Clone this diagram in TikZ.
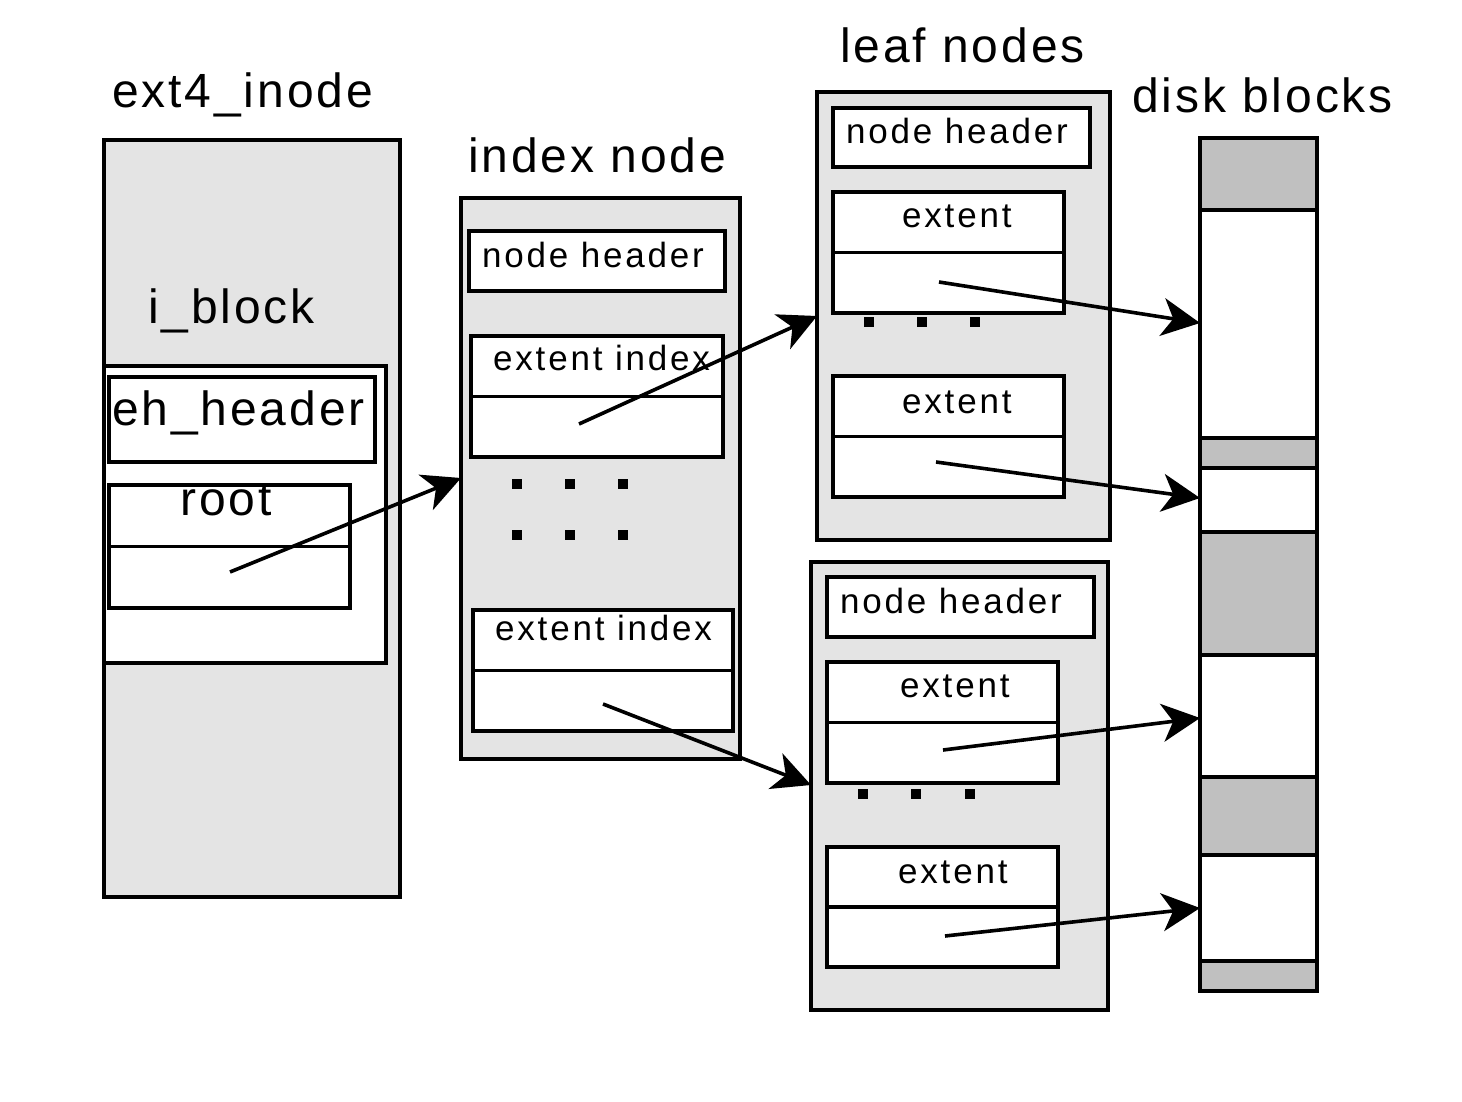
\documentclass[tikz,border=0pt]{standalone}
\usepackage{fontspec}
\setmainfont{Liberation Sans}
\newfontfamily\bigfam[LetterSpace=6]{Liberation Sans}
\newfontfamily\smallfam[LetterSpace=8]{Liberation Sans}
\usetikzlibrary{arrows.meta}
\definecolor{panelgray}{HTML}{E4E4E4}
\definecolor{diskgray}{HTML}{C0C0C0}
\tikzset{
  boxbase/.style={draw=black, line width=3.3pt, rectangle, anchor=north west, inner sep=0pt, outer sep=0pt},
  panel/.style={boxbase, fill=panelgray},
  cell/.style={boxbase, fill=white},
  biglabel/.style={anchor=base west, inner sep=0pt, font=\bigfam\fontsize{48}{50}\selectfont},
  smalllabel/.style={anchor=base west, inner sep=0pt, font=\smallfam\fontsize{35}{37}\selectfont},
  dotmark/.style={fill=black, rectangle, inner sep=0pt, minimum size=10pt},
  pointer/.style={draw=black, line width=3.6pt, -{Stealth[length=38pt, width=38pt, inset=11pt]}},
  divline/.style={draw=black, line width=3.3pt},
}
\begin{document}
\begin{tikzpicture}[x=1pt,y=-1pt]
\useasboundingbox (0,0) rectangle (1462,1102);

% ---------- ext4_inode ----------
\node[biglabel] (tinode) at (112,108) {ext4\_inode};
\node[panel, minimum width=296pt, minimum height=757pt] (inode) at (104,140) {};
\node[biglabel] (tiblock) at (148,323) {i\_block};
\node[cell, minimum width=282pt, minimum height=297pt] (iblock) at (104,366) {};
\node[cell, minimum width=266pt, minimum height=85pt] (ehh) at (109,377) {};
\node[biglabel] (tehh) at (112,425) {eh\_header};
\node[cell, minimum width=241pt, minimum height=123pt] (root) at (109,485) {};
\draw[divline] (root.west) -- (root.east);
\node[biglabel] (troot) at (180,515) {root};

% ---------- index node ----------
\node[biglabel] (tidx) at (468,173) {index node};
\node[panel, minimum width=279pt, minimum height=561pt] (idx) at (461,198) {};
\node[cell, minimum width=256pt, minimum height=60pt] (idxhdr) at (469,231) {};
\node[smalllabel] (tidxhdr) at (482,268) {node header};
\node[cell, minimum width=252pt, minimum height=121pt] (ei1) at (471,336) {};
\draw[divline] (ei1.west) -- (ei1.east);
\node[smalllabel] (tei1) at (493,370) {extent index};
\foreach \x/\y [count=\i] in {517/484,570/484,623/484,517/535,570/535,623/535}
  \node[dotmark] (idxdot\i) at (\x,\y) {};
\node[cell, minimum width=260pt, minimum height=121pt] (ei2) at (473,610) {};
\draw[divline] (ei2.west) -- (ei2.east);
\node[smalllabel] (tei2) at (495,640) {extent index};

% ---------- leaf node 1 ----------
\node[biglabel] (tleaf) at (840,63) {leaf nodes};
\node[panel, minimum width=293pt, minimum height=448pt] (leafa) at (817,92) {};
\node[cell, minimum width=257pt, minimum height=59pt] (lahdr) at (833,108) {};
\node[smalllabel] (tlahdr) at (846,144) {node header};
\node[cell, minimum width=231pt, minimum height=121pt] (lae1) at (833,192) {};
\draw[divline] (lae1.west) -- (lae1.east);
\node[smalllabel] (tlae1) at (902,228) {extent};
\foreach \x [count=\i] in {869,922,975}
  \node[dotmark] (ladot\i) at (\x,322) {};
\node[cell, minimum width=231pt, minimum height=121pt] (lae2) at (833,376) {};
\draw[divline] (lae2.west) -- (lae2.east);
\node[smalllabel] (tlae2) at (902,413) {extent};

% ---------- leaf node 2 ----------
\node[panel, minimum width=297pt, minimum height=448pt] (leafb) at (811,562) {};
\node[cell, minimum width=267pt, minimum height=60pt] (lbhdr) at (827,577) {};
\node[smalllabel] (tlbhdr) at (840,613) {node header};
\node[cell, minimum width=231pt, minimum height=121pt] (lbe1) at (827,662) {};
\draw[divline] (lbe1.west) -- (lbe1.east);
\node[smalllabel] (tlbe1) at (900,697) {extent};
\foreach \x [count=\i] in {863,916,970}
  \node[dotmark] (lbdot\i) at (\x,794) {};
\node[cell, minimum width=231pt, minimum height=120pt] (lbe2) at (827,847) {};
\draw[divline] (lbe2.west) -- (lbe2.east);
\node[smalllabel] (tlbe2) at (898,883) {extent};

% ---------- disk blocks ----------
\node[biglabel] (tdisk) at (1132,113) {disk blocks};
\fill[diskgray] (1200,138) rectangle (1317,991);
\fill[white] (1200,210) rectangle (1317,438);
\fill[white] (1200,468) rectangle (1317,532);
\fill[white] (1200,655) rectangle (1317,777);
\fill[white] (1200,855) rectangle (1317,961);
\foreach \y in {210,438,468,532,655,777,855,961}
  \draw[divline] (1200,\y) -- (1317,\y);
\node[boxbase, minimum width=117pt, minimum height=853pt] (disk) at (1200,138) {};

% ---------- pointers ----------
\coordinate (srcroot) at (230,572);
\coordinate (srcei1) at (579,424);
\coordinate (srcei2) at (603,704);
\coordinate (srclae1) at (939,282);
\coordinate (srclae2) at (936,462);
\coordinate (srclbe1) at (943,750);
\coordinate (srclbe2) at (945,936);
\coordinate (dstidx) at (idx.west |- 0,478);
\coordinate (dstleafa) at (leafa.west |- 0,316);
\coordinate (dstleafb) at (leafb.west |- 0,785);
\coordinate (dstd1) at (disk.west |- 0,323);
\coordinate (dstd2) at (disk.west |- 0,498);
\coordinate (dstd3) at (disk.west |- 0,718);
\coordinate (dstd4) at (disk.west |- 0,908);
\draw[pointer] (srcroot) -- (dstidx);
\draw[pointer] (srcei1) -- (dstleafa);
\draw[pointer] (srcei2) -- (dstleafb);
\draw[pointer] (srclae1) -- (dstd1);
\draw[pointer] (srclae2) -- (dstd2);
\draw[pointer] (srclbe1) -- (dstd3);
\draw[pointer] (srclbe2) -- (dstd4);
\end{tikzpicture}
\end{document}
